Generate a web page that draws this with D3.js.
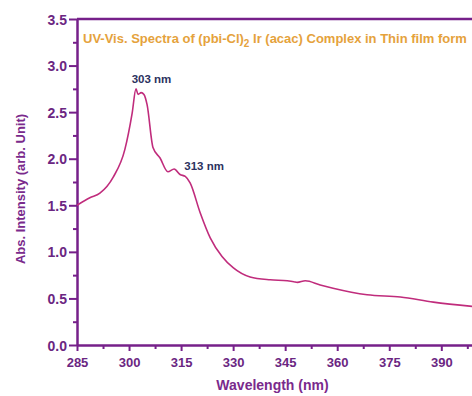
<!DOCTYPE html>
<html>
<head>
<meta charset="utf-8">
<script src="https://cdn.jsdelivr.net/npm/d3@7"></script>
<style>
  body { margin: 0; background: #fff; overflow: hidden; }
  text { font-family: "Liberation Sans", Arial, sans-serif; font-weight: bold; }
</style>
</head>
<body>
<svg id="chart"></svg>
<script>
// Spectrum values
var wavelength = [285, 288.7, 291.6, 295.4, 298.8, 300.9, 302.0, 302.6, 303.5, 304.3, 305.2, 306.9,
  308.9, 311.2, 313.0, 314.7, 316.2, 317.6, 320.5, 323.4, 326.8, 330, 334.9, 340.7, 345.6,
  347.5, 348.5, 350.8, 355.1, 358.8, 368.6, 378.2, 387.7, 400];
var absorbance = [1.5, 1.58, 1.63, 1.8, 2.1, 2.49, 2.75, 2.69, 2.71, 2.69, 2.58, 2.12,
  2.01, 1.86, 1.89, 1.83, 1.81, 1.74, 1.42, 1.15, 0.95, 0.83, 0.73, 0.7, 0.69,
  0.68, 0.672, 0.69, 0.645, 0.61, 0.54, 0.515, 0.46, 0.41];
var xTicks = [285, 300, 315, 330, 345, 360, 375, 390];
var yTicks = [0, 0.5, 1.0, 1.5, 2.0, 2.5, 3.0, 3.5];
var peaks = [{ label: "303 nm", nm: 303, dy: -10, dx: 12 }, { label: "313 nm", nm: 313, dy: 1, dx: 30 }];

var margin = { top: 19, right: -4, bottom: 51, left: 77 };
var W = 472, H = 396;
const width = W - margin.left - margin.right;
const height = H - margin.top - margin.bottom;
var axisColor = "#76208a";

var svg = d3.select("#chart")
    .attr("width", W)
    .attr("height", H)
    .append("g")
    .attr("transform", "translate(" + margin.left + "," + margin.top + ")");

var xScale = d3.scaleLinear().domain([285, 400]).range([0, width]);
var yScale = d3.scaleLinear().domain([0, 3.5]).range([height, 0]);

// minor ticks
svg.append("g")
    .attr("transform", "translate(0," + height + ")")
    .call(d3.axisBottom(xScale).tickValues(d3.range(292.5, 400, 15)).tickSize(4).tickFormat(""))
    .call(g => g.select(".domain").remove())
    .selectAll("line").attr("stroke", axisColor).attr("stroke-width", 2);
svg.append("g")
    .call(d3.axisLeft(yScale).tickValues(d3.range(0.25, 3.5, 0.5)).tickSize(4).tickFormat(""))
    .call(g => g.select(".domain").remove())
    .selectAll("line").attr("stroke", axisColor).attr("stroke-width", 2);

// main axes
var xAxis = svg.append("g")
    .attr("transform", "translate(0," + height + ")")
    .call(d3.axisBottom(xScale).tickValues(xTicks).tickSize(6).tickSizeOuter(0).tickPadding(7));
var yAxis = svg.append("g")
    .call(d3.axisLeft(yScale).tickValues(yTicks).tickSize(8).tickSizeOuter(0).tickPadding(2)
        .tickFormat(d3.format(".1f")));

[xAxis, yAxis].forEach(function(a) {
    a.select(".domain").attr("stroke", axisColor).attr("stroke-width", 2.5);
    a.selectAll(".tick line").attr("stroke", axisColor).attr("stroke-width", 2);
    a.selectAll(".tick text").attr("fill", "#6b2682");
});
xAxis.selectAll(".tick text").style("font-size", "13px");
yAxis.selectAll(".tick text").style("font-size", "14px").attr("dy", "0.36em");

// top frame line
svg.append("line")
    .attr("x1", 0).attr("x2", width)
    .attr("y1", 0).attr("y2", 0)
    .attr("stroke", axisColor).attr("stroke-width", 2.5);

// spectrum line
var data = wavelength.map(function(d, i) { return { x: d, y: absorbance[i] }; });
var line = d3.line()
    .x(function(d) { return xScale(d.x); })
    .y(function(d) { return yScale(d.y); })
    .curve(d3.curveMonotoneX);

svg.append("path")
    .datum(data)
    .attr("fill", "none")
    .attr("stroke", "#c02c7c")
    .attr("stroke-width", 1.6)
    .attr("d", line);

// title
var title = svg.append("text")
    .attr("x", 6)
    .attr("y", 24)
    .attr("fill", "#e5a23c")
    .style("font-size", "13px");
title.append("tspan").text("UV-Vis. Spectra of (pbi-Cl)");
title.append("tspan").attr("dy", 4).style("font-size", "10px").text("2");
title.append("tspan").attr("dy", -4).text(" Ir (acac) Complex in Thin film form");

// peak labels
svg.selectAll(".peak")
    .data(peaks)
    .enter()
    .append("text")
    .attr("class", "peak")
    .attr("x", function(d) { return xScale(d.nm) + d.dx; })
    .attr("y", function(d) {
        var i = d3.bisectLeft(wavelength, d.nm);
        return yScale(absorbance[i]) + d.dy;
    })
    .attr("text-anchor", "middle")
    .attr("fill", "#2c3260")
    .style("font-size", "11.5px")
    .text(function(d) { return d.label; });

// axis labels
svg.append("text")
    .attr("x", width / 2 - 4)
    .attr("y", height + 45)
    .attr("text-anchor", "middle")
    .attr("fill", "#7a2a8c")
    .style("font-size", "14px")
    .text("Wavelength (nm)");

svg.append("text")
    .attr("transform", "rotate(-90)")
    .attr("x", -170)
    .attr("y", -52)
    .attr("text-anchor", "middle")
    .attr("fill", "#7a2a8c")
    .style("font-size", "13px")
    .text("Abs. Intensity (arb. Unit)");
</script>
</body>
</html>
